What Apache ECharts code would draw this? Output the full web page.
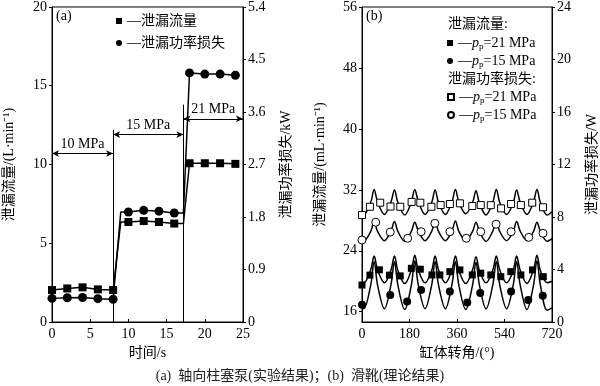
<!DOCTYPE html>
<html><head><meta charset="utf-8">
<script src="https://cdn.jsdelivr.net/npm/echarts@6/dist/echarts.min.js"></script>
<style>html,body{margin:0;padding:0;background:#fff}#c{width:600px;height:386px}</style>
</head><body><div id="c"></div>
<script>
// ---------- Panel (a) data ----------
const lineTimeA  = [0, 2, 4, 6, 8, 9, 10, 12, 14, 16, 17.2, 18, 20, 22, 24];
const flowLineA  = [2.03, 2.13, 2.20, 2.07, 2.03, 6.35, 6.35, 6.41, 6.35, 6.25, 6.25, 10.08, 10.08, 10.08, 10.04];
const powerLineA = [0.405, 0.415, 0.42, 0.40, 0.39, 1.885, 1.885, 1.914, 1.90, 1.868, 1.868, 4.27, 4.25, 4.25, 4.23];
const markTimeA  = [0, 2, 4, 6, 8, 10, 12, 14, 16, 18, 20, 22, 24];
const flowMarkA  = [2.03, 2.13, 2.20, 2.07, 2.03, 6.35, 6.41, 6.35, 6.25, 10.08, 10.08, 10.08, 10.04];
const powerMarkA = [0.405, 0.415, 0.42, 0.40, 0.39, 1.885, 1.914, 1.90, 1.868, 4.27, 4.25, 4.25, 4.23];
const pressureLabels = ['10 MPa', '15 MPa', '21 MPa'];
const pressureSpans  = [[0, 8], [8, 17.2], [17.2, 25]];
const pressureArrowY = [10.7, 11.9, 12.9];
const dividerTimes   = [8, 17.2];
const dividerTops    = [12.2, 13.8];
const xTicksA = [0, 25, 5];
const yLeftA  = [0, 20, 5];
const yRightA = [0, 5.4, 0.9];

// ---------- Panel (b) data ----------
const angleB = [0, 7, 33, 46, 59, 85, 110, 123, 136, 162, 187, 200, 213, 239, 264, 277, 290, 316, 341, 354, 367, 393, 419, 432, 445, 470, 496, 509, 522, 548, 573, 586, 599, 625, 650, 663, 676, 702, 720];
const powerLine21 = [8.25, 8.2, 9.1, 10.1, 9.15, 8.2, 9.15, 10.05, 9.1, 8.15, 9.15, 10.1, 9.2, 8.2, 9.1, 10.05, 9.1, 8.2, 9.15, 10.1, 9.15, 8.25, 9.1, 10.0, 9.05, 8.15, 9.15, 10.1, 9.1, 8.2, 9.1, 10.05, 9.15, 8.2, 9.15, 10.1, 9.1, 8.15, 8.4];
const powerLine15 = [6.3, 6.2, 6.9, 7.65, 6.9, 6.2, 6.95, 7.65, 6.9, 6.15, 6.9, 7.6, 6.95, 6.2, 6.9, 7.65, 6.9, 6.2, 6.95, 7.7, 6.9, 6.2, 6.9, 7.6, 6.9, 6.15, 6.95, 7.65, 6.9, 6.2, 6.9, 7.65, 6.95, 6.2, 6.9, 7.6, 6.9, 6.15, 6.35];
const flowLine21  = [19.9, 19.8, 21.5, 23.3, 21.5, 19.8, 21.5, 23.3, 21.4, 19.7, 21.5, 23.4, 21.5, 19.8, 21.4, 23.3, 21.5, 19.8, 21.5, 23.3, 21.4, 19.7, 21.5, 23.2, 21.4, 19.8, 21.5, 23.3, 21.5, 19.8, 21.4, 23.3, 21.5, 19.7, 21.5, 23.4, 21.4, 19.8, 20.0];
const flowLine15  = [16.6, 16.4, 19.5, 22.6, 19.5, 16.4, 19.6, 22.6, 19.5, 16.3, 19.5, 22.7, 19.6, 16.4, 19.5, 22.6, 19.5, 16.4, 19.6, 22.6, 19.5, 16.3, 19.5, 22.5, 19.5, 16.4, 19.6, 22.6, 19.5, 16.4, 19.5, 22.6, 19.6, 16.3, 19.5, 22.7, 19.5, 16.2, 16.5];

const powerMark21Ang = [0, 30, 69, 108, 145, 188, 221, 263, 298, 333, 371, 418, 450, 488, 527, 565, 602, 645, 686];
const powerMark21Val = [8.15, 8.78, 9.09, 8.8, 8.78, 9.15, 9.09, 8.78, 8.91, 8.99, 9.04, 8.84, 8.91, 8.9, 8.66, 8.99, 8.91, 9.09, 8.74];
const powerMark15Ang = [0, 52, 107, 173, 224, 276, 333, 395, 450, 508, 565, 632, 686];
const powerMark15Val = [6.25, 7.6, 6.85, 6.38, 6.88, 7.52, 6.88, 6.38, 6.88, 7.45, 6.88, 6.45, 6.76];
const flowMark21Ang = [0, 30, 66, 104, 145, 187, 221, 265, 295, 333, 371, 418, 450, 488, 526, 564, 602, 646, 687];
const flowMark21Val = [19.5, 20.8, 21.5, 20.8, 20.7, 21.7, 21.58, 20.83, 20.83, 21.26, 21.49, 20.83, 21.05, 20.83, 20.6, 21.26, 20.83, 21.49, 20.6];
const flowMark15Ang = [0, 107, 171, 224, 333, 399, 448, 565, 630, 685];
const flowMark15Val = [16.9, 18.2, 17.33, 18.86, 18.64, 17.2, 18.45, 18.64, 17.55, 18.1];

const xTicksB = [0, 720, 180];
const yLeftB = [14.65, 56];
const yLeftBLabels = [16, 24, 32, 40, 48, 56];
const yRightB = [0, 24, 4];

const legendB = {q21: '21 MPa', q15: '15 MPa', p21: '21 MPa', p15: '15 MPa'};

// ---------- helpers ----------
const FONT = "'Liberation Serif','Noto Sans CJK SC',serif";
const zip = (a, b) => a.map((v, i) => [v, b[i]]);
const BLACK = '#000';
const axisCommon = {
  axisLine: {show: true, lineStyle: {color: BLACK, width: 1}},
  axisLabel: {color: BLACK, fontSize: 14, fontFamily: FONT, margin: 5},
  splitLine: {show: false},
  nameTextStyle: {color: BLACK, fontSize: 14, fontFamily: FONT},
  nameLocation: 'middle'
};
function xAx(grid, r, name) {
  return Object.assign({}, axisCommon, {
    gridIndex: grid, type: 'value', min: r[0], max: r[1], interval: r[2],
    name: name, nameGap: 24,
    axisTick: {show: true, inside: true, length: 3, lineStyle: {color: BLACK}},
  });
}
function yAx(grid, pos, r, name, gap, extra) {
  const o = Object.assign({}, axisCommon, {
    gridIndex: grid, type: 'value', position: pos, min: r[0], max: r[1],
    name: name, nameGap: gap, nameRotate: 90,
    axisTick: {show: true, inside: false, length: 3, lineStyle: {color: BLACK}},
  }, extra || {});
  if (r[2] != null) o.interval = r[2];
  return o;
}
const lineS = (x, y, data, smooth) => ({
  type: 'line', xAxisIndex: x, yAxisIndex: y, data: data, symbol: 'none',
  smooth: smooth || false, lineStyle: {color: BLACK, width: 1.5}, z: 2, silent: true
});
const markS = (name, x, y, data, sym, size, hollow) => ({
  type: 'scatter', name: name, xAxisIndex: x, yAxisIndex: y, data: data,
  symbol: sym, symbolSize: size,
  itemStyle: {color: hollow ? '#fff' : BLACK, borderColor: BLACK, borderWidth: hollow ? 1 : 0, opacity: 1},
  z: 4, silent: true
});

// markLines for panel (a)
const arrowLines = pressureSpans.map((s, i) => [
  {coord: [s[0], pressureArrowY[i]], symbol: 'arrow', symbolSize: [5, 7],
   label: {show: true, formatter: pressureLabels[i], position: 'insideMiddleTop', distance: 2,
           color: BLACK, fontSize: 14, fontFamily: FONT}},
  {coord: [s[1], pressureArrowY[i]], symbol: 'arrow', symbolSize: [5, 7]}
]);
const dividerLines = dividerTimes.map((t, i) => [
  {coord: [t, 0], symbol: 'none', label: {show: false}},
  {coord: [t, dividerTops[i]], symbol: 'none'}
]);

const richText = {
  i: {fontStyle: 'italic', fontSize: 14, fontFamily: FONT, color: BLACK, lineHeight: 16},
  s: {fontSize: 9, fontFamily: FONT, color: BLACK, verticalAlign: 'bottom', lineHeight: 9}
};
const legBase = {
  orient: 'vertical', itemWidth: 6, itemHeight: 6, padding: 0,
  selectedMode: false,
  textStyle: {fontSize: 14, fontFamily: FONT, color: BLACK, lineHeight: 16, rich: richText}
};

const option = {
  animation: false,
  backgroundColor: '#fff',
  textStyle: {fontFamily: FONT, color: BLACK},
  title: {
    text: '(a)  轴向柱塞泵(实验结果)；(b)  滑靴(理论结果)',
    left: 'center', top: 364,
    textStyle: {fontSize: 14, fontWeight: 'normal', color: '#222', fontFamily: FONT}
  },
  grid: [
    {left: 52, top: 6, width: 191, height: 316, show: true, borderColor: BLACK, borderWidth: 1},
    {left: 362, top: 7, width: 190, height: 315, show: true, borderColor: BLACK, borderWidth: 1}
  ],
  xAxis: [
    xAx(0, xTicksA, '时间/s'),
    xAx(1, xTicksB, '缸体转角/(°)')
  ],
  yAxis: [
    yAx(0, 'left', yLeftA, '泄漏流量/(L·min⁻¹)', 36),
    yAx(0, 'right', yRightA, '泄漏功率损失/kW', 36),
    yAx(1, 'left', [yLeftB[0], yLeftB[1], null], '泄漏流量/(mL·min⁻¹)', 35, {
      axisLabel: Object.assign({}, axisCommon.axisLabel, {customValues: yLeftBLabels}),
      axisTick: {show: true, inside: false, length: 3, customValues: yLeftBLabels, lineStyle: {color: BLACK}}
    }),
    yAx(1, 'right', yRightB, '泄漏功率损失/W', 33)
  ],
  legend: [
    Object.assign({}, legBase, {
      left: 116, top: 13, itemGap: 6,
      data: [{name: '泄漏流量', icon: 'rect'}, {name: '泄漏功率损失', icon: 'circle'}],
      formatter: n => '—' + n
    }),
    Object.assign({}, legBase, {
      left: 447, top: 35, itemGap: 2,
      data: [{name: 'q21', icon: 'rect'}, {name: 'q15', icon: 'circle'}],
      formatter: n => '—{i|p}{s|p}=' + legendB[n]
    }),
    Object.assign({}, legBase, {
      left: 447, top: 89, itemGap: 2,
      data: [{name: 'p21', icon: 'rect'}, {name: 'p15', icon: 'circle'}],
      formatter: n => '—{i|p}{s|p}=' + legendB[n]
    })
  ],
  graphic: [
    {type: 'text', left: 56, top: 9, style: {text: '(a)', fontSize: 14, fontFamily: FONT, fill: BLACK}},
    {type: 'text', left: 366, top: 9, style: {text: '(b)', fontSize: 14, fontFamily: FONT, fill: BLACK}},
    {type: 'text', left: 448, top: 17, style: {text: '泄漏流量:', fontSize: 14, fontFamily: FONT, fill: BLACK}},
    {type: 'text', left: 448, top: 72, style: {text: '泄漏功率损失:', fontSize: 14, fontFamily: FONT, fill: BLACK}}
  ],
  series: [
    // panel (a)
    Object.assign(lineS(0, 0, zip(lineTimeA, flowLineA)), {
      markLine: {silent: true, animation: false, symbol: ['arrow', 'arrow'],
        lineStyle: {color: BLACK, width: 1, type: 'solid'},
        label: {show: false}, emphasis: {disabled: true},
        data: arrowLines.concat(dividerLines)}
    }),
    lineS(0, 1, zip(lineTimeA, powerLineA)),
    markS('泄漏流量', 0, 0, zip(markTimeA, flowMarkA), 'rect', 8, false),
    markS('泄漏功率损失', 0, 1, zip(markTimeA, powerMarkA), 'circle', 9, false),
    // panel (b)
    lineS(1, 3, zip(angleB, powerLine21), 0.35),
    lineS(1, 3, zip(angleB, powerLine15), 0.35),
    lineS(1, 2, zip(angleB, flowLine21), 0.35),
    lineS(1, 2, zip(angleB, flowLine15), 0.35),
    markS('p21', 1, 3, zip(powerMark21Ang, powerMark21Val), 'rect', 7, true),
    markS('p15', 1, 3, zip(powerMark15Ang, powerMark15Val), 'circle', 8, true),
    markS('q21', 1, 2, zip(flowMark21Ang, flowMark21Val), 'rect', 7, false),
    markS('q15', 1, 2, zip(flowMark15Ang, flowMark15Val), 'circle', 8, false)
  ]
};

const chart = echarts.init(document.getElementById('c'), null, {renderer: 'canvas'});
chart.setOption(option);
</script>
</body></html>
